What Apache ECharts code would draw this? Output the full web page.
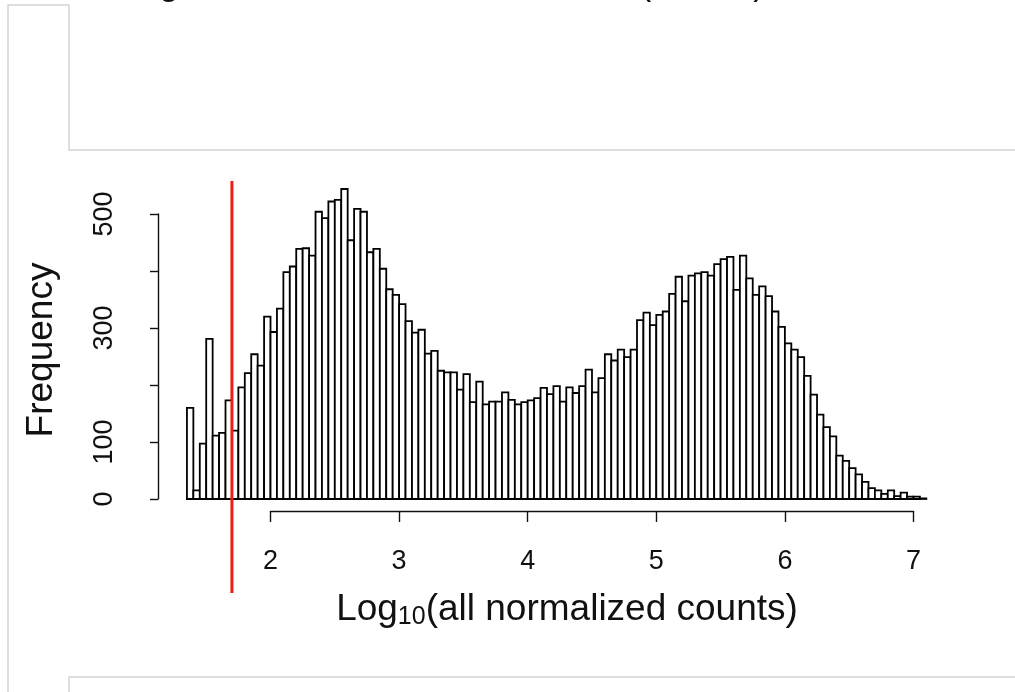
<!DOCTYPE html>
<html>
<head>
<meta charset="utf-8">
<script src="https://cdn.jsdelivr.net/npm/echarts@6/dist/echarts.min.js"></script>
<style>
  html, body { margin: 0; padding: 0; background: #ffffff; }
  #chart { width: 1015px; height: 692px; }
</style>
</head>
<body>
<div id="chart"></div>
<script>
// Histogram of log10 normalized counts: equal-width bins starting at binStart
const binStart = 1.35;
const binWidth = 0.05;
const counts = [
  160, 15, 97, 281, 111, 116, 173, 120, 196, 221,
  254, 234, 320, 293, 334, 398, 408, 439, 440, 427,
  504, 493, 522, 525, 544, 454, 509, 504, 433, 439,
  404, 368, 358, 342, 312, 292, 297, 255, 260, 225,
  222, 222, 192, 219, 170, 206, 166, 171, 171, 187,
  174, 166, 170, 173, 177, 195, 184, 198, 171, 196,
  186, 198, 227, 187, 212, 254, 243, 262, 249, 262,
  314, 327, 305, 323, 329, 360, 390, 347, 392, 396,
  398, 392, 412, 421, 425, 367, 427, 387, 358, 373,
  356, 329, 302, 273, 262, 249, 216, 183, 148, 126,
  110, 76, 67, 54, 43, 30, 19, 15, 9, 15,
  5, 11, 4, 4, 1
];
const xTicks = [2, 3, 4, 5, 6, 7];
const yTicks = [0, 100, 200, 300, 400, 500];
const yTickLabels = [0, 100, 300, 500];
const cutoff = 1.7;
const titleText = 'Histogram of all normalized counts (before)';
const xTitle = ['Log', '10', '(all normalized counts)'];
const yTitle = 'Frequency';

const FONT = '"Liberation Sans", Arial, Helvetica, sans-serif';
const TICK_FONT = '"Liberation Sans Narrow", "Arial Narrow", "Liberation Sans", sans-serif';
const INK = '#111111';

// [left edge, right edge, count] for every bin
const bins = counts.map((c, i) => [binStart + i * binWidth, binStart + (i + 1) * binWidth, c]);

const chart = echarts.init(document.getElementById('chart'), null, { renderer: 'canvas' });

const option = {
  backgroundColor: '#ffffff',
  animation: false,
  grid: [
    // plotting region (bars + cutoff line)
    { left: 180.5, top: 181, width: 758.7, height: 412, outerBoundsMode: 'none' },
    // bottom axis, spanning only the labelled range
    { left: 270.5, top: 500, width: 643, height: 11, outerBoundsMode: 'none' },
    // left axis, spanning only the labelled range
    { left: 158, top: 214, width: 10, height: 285, outerBoundsMode: 'none' }
  ],
  xAxis: [
    { gridIndex: 0, type: 'value', min: 1.3, max: 7.2, show: false },
    {
      gridIndex: 1, type: 'value', min: xTicks[0], max: xTicks[xTicks.length - 1], interval: 1,
      position: 'bottom',
      axisLine: { show: true, lineStyle: { color: INK, width: 1.4 } },
      axisTick: { show: true, length: 11, inside: false, lineStyle: { color: INK, width: 1.4 } },
      axisLabel: { show: true, margin: 37, fontFamily: TICK_FONT, fontSize: 27, color: INK },
      splitLine: { show: false }
    },
    { gridIndex: 2, type: 'value', show: false }
  ],
  yAxis: [
    { gridIndex: 0, type: 'value', min: -165, max: 558, show: false },
    { gridIndex: 1, type: 'value', show: false },
    {
      gridIndex: 2, type: 'value', min: yTicks[0], max: yTicks[yTicks.length - 1], interval: 100,
      position: 'left',
      axisLine: { show: true, lineStyle: { color: INK, width: 1.4 } },
      axisTick: { show: true, length: 8, inside: false, lineStyle: { color: INK, width: 1.4 } },
      axisLabel: {
        show: true, rotate: 90, margin: 40, fontFamily: TICK_FONT, fontSize: 27, color: INK,
        formatter: v => (yTickLabels.indexOf(v) >= 0 ? String(v) : '')
      },
      splitLine: { show: false }
    }
  ],
  series: [
    {
      type: 'custom',
      name: 'bins',
      xAxisIndex: 0, yAxisIndex: 0,
      data: bins,
      renderItem: function (params, api) {
        const p0 = api.coord([api.value(0), api.value(2)]);
        const p1 = api.coord([api.value(1), 0]);
        return {
          type: 'rect',
          shape: { x: p0[0], y: p0[1], width: p1[0] - p0[0], height: p1[1] - p0[1] },
          style: { fill: '#ffffff', stroke: '#000000', lineWidth: 1.8 }
        };
      },
      silent: true
    },
    {
      type: 'custom',
      name: 'cutoff',
      xAxisIndex: 0, yAxisIndex: 0,
      data: [[cutoff]],
      renderItem: function (params, api) {
        const x = api.coord([api.value(0), 0])[0];
        const cs = params.coordSys;
        return {
          type: 'line',
          shape: { x1: x, y1: cs.y, x2: x, y2: cs.y + cs.height },
          style: { stroke: '#ee1c14', lineWidth: 3 }
        };
      },
      silent: true,
      z: 5
    }
  ],
  graphic: [
    // surrounding panel outlines
    {
      type: 'polyline', silent: true,
      shape: { points: [[8, 692], [8, 5], [69, 5], [69, 150], [1015, 150]] },
      style: { stroke: '#d4d4d4', lineWidth: 1.5, fill: null }
    },
    {
      type: 'polyline', silent: true,
      shape: { points: [[1015, 677], [69, 677], [69, 692]] },
      style: { stroke: '#d4d4d4', lineWidth: 1.5, fill: null }
    },
    // heading, mostly above the top edge
    {
      type: 'text', silent: true, x: 77, y: -16,
      style: { text: titleText, fontFamily: FONT, fontSize: 36, fill: INK, align: 'left', verticalAlign: 'middle' }
    },
    // x axis title with subscript
    {
      type: 'text', silent: true, x: 567, y: 610,
      style: {
        text: '{m|' + xTitle[0] + '}{s|' + xTitle[1] + '}{m|' + xTitle[2] + '}',
        align: 'center', verticalAlign: 'middle',
        rich: {
          m: { fontFamily: FONT, fontSize: 37, fill: INK, lineHeight: 40, verticalAlign: 'middle' },
          s: { fontFamily: FONT, fontSize: 25, fill: INK, lineHeight: 28, verticalAlign: 'bottom' }
        }
      }
    },
    // y axis title
    {
      type: 'text', silent: true, x: 42, y: 350, rotation: Math.PI / 2,
      style: { text: yTitle, fontFamily: FONT, fontSize: 37, fill: INK, align: 'center', verticalAlign: 'middle' }
    }
  ]
};

chart.setOption(option);
</script>
</body>
</html>
